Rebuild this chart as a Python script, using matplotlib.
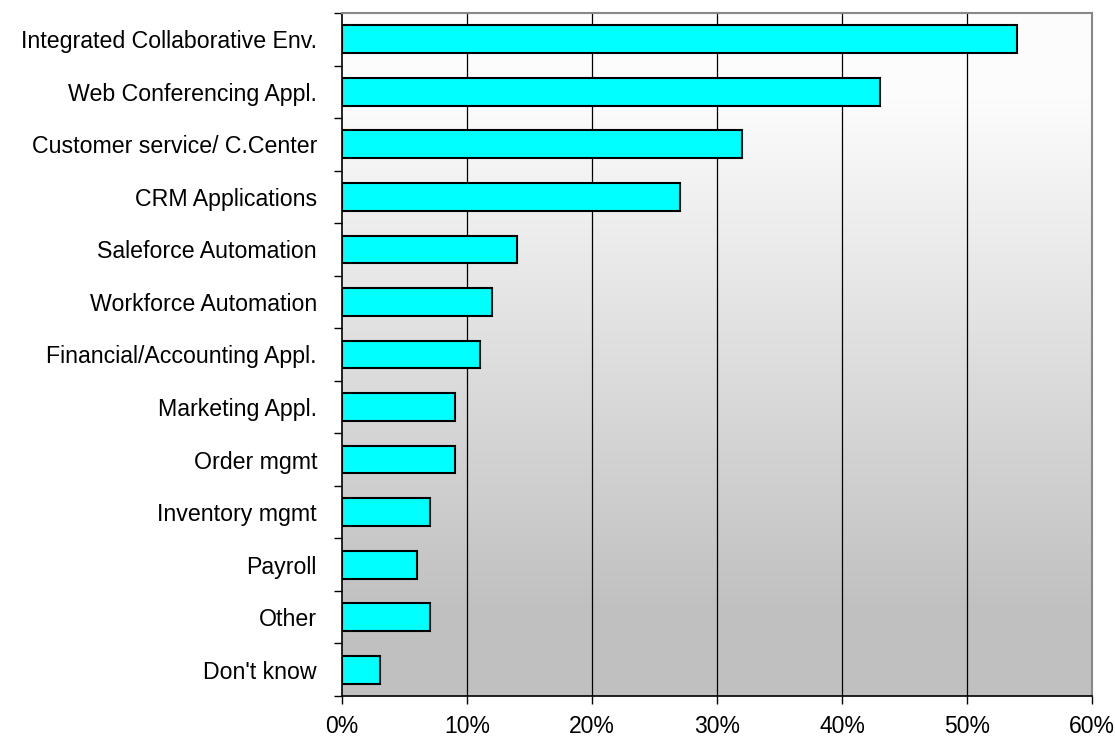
import numpy as np
import matplotlib
matplotlib.use("Agg")
import matplotlib.pyplot as plt
from matplotlib.ticker import FixedLocator, PercentFormatter

plt.rcParams['font.family'] = ['Liberation Sans', 'DejaVu Sans']

categories = [
    "Integrated Collaborative Env.",
    "Web Conferencing Appl.",
    "Customer service/ C.Center",
    "CRM Applications",
    "Saleforce Automation",
    "Workforce Automation",
    "Financial/Accounting Appl.",
    "Marketing Appl.",
    "Order mgmt",
    "Inventory mgmt",
    "Payroll",
    "Other",
    "Don't know",
]
values = [54, 43, 32, 27, 14, 12, 11, 9, 9, 7, 6, 7, 3]
x_ticks = [0, 10, 20, 30, 40, 50, 60]

fig = plt.figure(figsize=(11.15, 7.38), dpi=100)
ax = fig.add_axes([342 / 1115, 1 - 696 / 738, 750 / 1115, 683 / 738])

n = len(categories)
ypos = np.arange(n)

# vertical gradient background: near-white at top fading to grey toward the bottom
t = np.linspace(0, 1, 512)
ramp = np.clip((t - 0.12) / (0.88 - 0.12), 0, 1)
level = 0.99 - (0.99 - 0.753) * ramp
img = np.repeat(level[:, None, None], 3, axis=2)
ax.imshow(img, extent=[0, 1, 0, 1], transform=ax.transAxes, aspect='auto', zorder=0)

ax.set_xlim(0, 60)
ax.set_ylim(n - 0.5, -0.5)

for tk in x_ticks[1:-1]:
    ax.axvline(tk, color='black', lw=0.9, zorder=1)

ax.barh(ypos, values, height=0.53, color='#00FFFF', edgecolor='black', linewidth=1.5, zorder=2)

ax.xaxis.set_major_locator(FixedLocator(x_ticks))
ax.xaxis.set_major_formatter(PercentFormatter(decimals=0))
ax.tick_params(axis='x', direction='out', length=6, width=1, labelsize=16.5, pad=8)

ax.set_yticks(ypos)
ax.set_yticklabels(categories)
ax.yaxis.set_minor_locator(FixedLocator(np.arange(-0.5, n, 1.0)))
ax.tick_params(axis='y', which='major', length=0, labelsize=16.7, pad=18)
ax.tick_params(axis='y', which='minor', direction='out', length=6, width=1)

for side in ('top', 'right'):
    ax.spines[side].set_color('#888888')
    ax.spines[side].set_linewidth(1.5)
for side in ('left', 'bottom'):
    ax.spines[side].set_color('black')
    ax.spines[side].set_linewidth(1.2)

fig.savefig('out.png', dpi=100, facecolor='white')
